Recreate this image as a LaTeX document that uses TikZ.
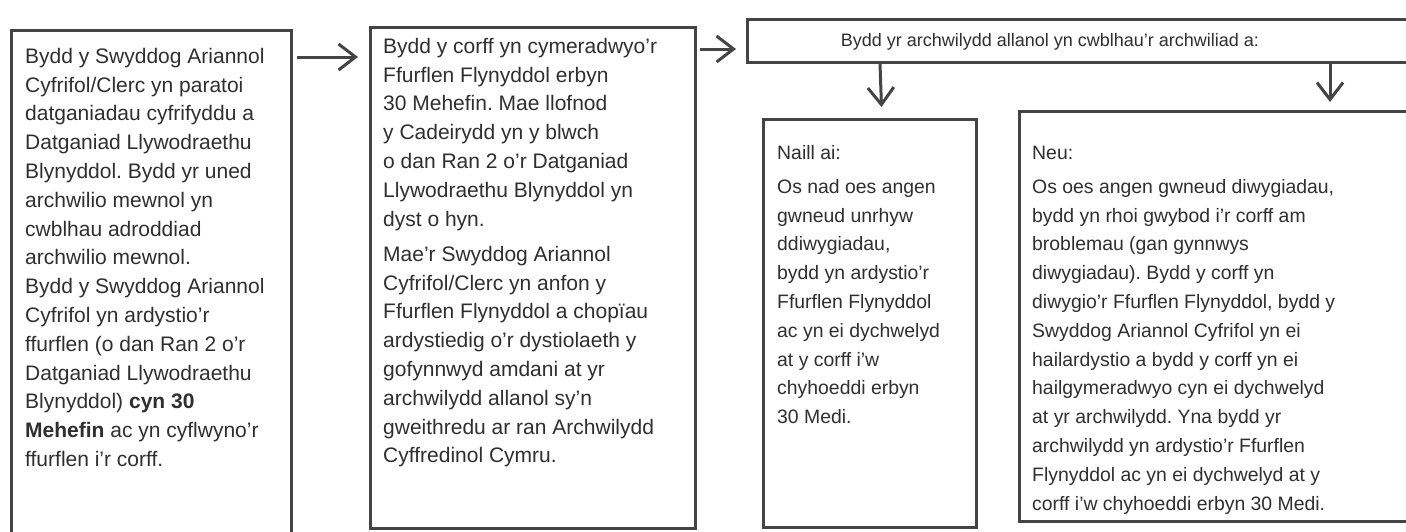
\documentclass[tikz,border=0pt]{standalone}
\usepackage{fontspec}
\setmainfont{Liberation Sans}
\usetikzlibrary{arrows.meta,calc}
\definecolor{linec}{HTML}{444444}
\definecolor{textc}{HTML}{2F2F2F}
\frenchspacing
\begin{document}
\begin{tikzpicture}[x=1pt,y=-1pt,
  box/.style={draw=linec,line width=3pt,inner sep=0pt,anchor=north west},
  txt/.style={text=textc,align=left,inner sep=0pt,anchor=north west},
  bigf/.style={font={\fontsize{21}{28.8}\selectfont}},
  medf/.style={font={\fontsize{19.4}{28.8}\selectfont}},
  arr/.style={draw=linec,line width=3pt,-{Straight Barb[length=17pt,width=26pt,line width=3pt]}}]
\fill[white] (0,0) rectangle (1406,531);
\useasboundingbox (0,0) rectangle (1406,531);
\clip (0,0) rectangle (1406,531);
% boxes
\node[box,minimum width=280pt,minimum height=520pt] (b1) at (10,29) {};
\node[box,minimum width=325pt,minimum height=501pt] (b2) at (369,26) {};
\node[box,minimum width=680pt,minimum height=43pt] (tb) at (746,18) {};
\node[box,minimum width=213pt,minimum height=408pt] (b4) at (762,118) {};
\node[box,minimum width=400pt,minimum height=410pt] (b5) at (1018,110) {};
% texts
\node[txt,bigf] (t1) at (25,42.84) {\strut Bydd y Swyddog Ariannol\\
Cyfrifol/Clerc yn paratoi\\
datganiadau cyfrifyddu a\\
Datganiad Llywodraethu\\
Blynyddol. Bydd yr uned\\
archwilio mewnol yn\\
cwblhau adroddiad\\
archwilio mewnol.\\
Bydd y Swyddog Ariannol\\
Cyfrifol yn ardystio’r\\
ffurflen (o dan Ran 2 o’r\\
Datganiad Llywodraethu\\
Blynyddol) \textbf{cyn 30}\\
\textbf{Mehefin} ac yn cyflwyno’r\\
ffurflen i’r corff.};
\node[txt,bigf] (t2) at (383,32.84) {\strut Bydd y corff yn cymeradwyo’r\\
Ffurflen Flynyddol erbyn\\
30 Mehefin. Mae llofnod\\
y Cadeirydd yn y blwch\\
o dan Ran 2 o’r Datganiad\\
Llywodraethu Blynyddol yn\\
dyst o hyn.\\[6.5pt]
Mae\char"0027 r Swyddog Ariannol\\
Cyfrifol/Clerc yn anfon y\\
Ffurflen Flynyddol a chopïau\\
ardystiedig o’r dystiolaeth y\\
gofynnwyd amdani at yr\\
archwilydd allanol sy’n\\
gweithredu ar ran Archwilydd\\
Cyffredinol Cymru.};
\node[text=textc,inner sep=0pt,anchor=base,font={\fontsize{18}{22}\selectfont}] (tt) at (1050,46) {Bydd yr archwilydd allanol yn cwblhau’r archwiliad a:};
\node[txt,medf] (t4) at (777,138.84) {\strut Naill ai:\\[5.2pt]
Os nad oes angen\\
gwneud unrhyw\\
ddiwygiadau,\\
bydd yn ardystio’r\\
Ffurflen Flynyddol\\
ac yn ei dychwelyd\\
at y corff i’w\\
chyhoeddi erbyn\\
30 Medi.};
\node[txt,medf] (t5) at (1032,138.84) {\strut Neu:\\[5.2pt]
Os oes angen gwneud diwygiadau,\\
bydd yn rhoi gwybod i’r corff am\\
broblemau (gan gynnwys\\
diwygiadau). Bydd y corff yn\\
diwygio’r Ffurflen Flynyddol, bydd y\\
Swyddog Ariannol Cyfrifol yn ei\\
hailardystio a bydd y corff yn ei\\
hailgymeradwyo cyn ei dychwelyd\\
at yr archwilydd. Yna bydd yr\\
archwilydd yn ardystio’r Ffurflen\\
Flynyddol ac yn ei dychwelyd at y\\
corff i’w chyhoeddi erbyn 30 Medi.};
% connectors
\draw[arr] ([xshift=4pt,yshift=-28pt]b1.north east) -- ([xshift=-11pt,yshift=-31pt]b2.north west);
\draw[arr] ([xshift=3pt,yshift=-23pt]b2.north east) -- ([xshift=-10pt,yshift=-31pt]tb.north west);
\draw[arr] ([xshift=134pt]tb.south west) -- ([xshift=11.5pt,yshift=11pt]b4.north);
\draw[arr] ([xshift=584pt]tb.south west) -- ([xshift=312pt,yshift=8pt]b5.north west);
\end{tikzpicture}
\end{document}
